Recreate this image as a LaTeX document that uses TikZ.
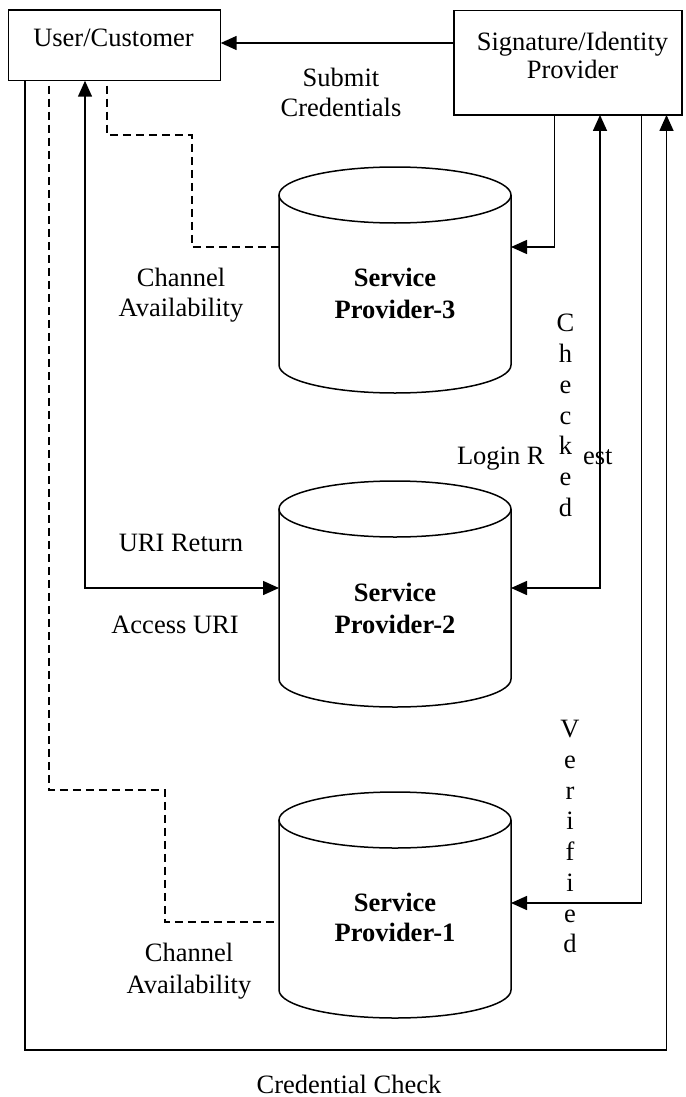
\documentclass[tikz,border=0pt]{standalone}
\usepackage{fontspec}
\setmainfont{Liberation Serif}
\usetikzlibrary{arrows.meta}
\newcommand{\dbcyl}[2]{%
  \draw[conn] (#1,#2) ellipse [x radius=116pt, y radius=28pt];
  \draw[conn] (#1,#2) ++(-116,0) -- ++(0,170)
     arc[start angle=180, end angle=360, x radius=116pt, y radius=28pt] -- ++(0,-170);}
\begin{document}
\begin{tikzpicture}[x=1pt,y=-1pt,
  every node/.style={inner sep=0pt, outer sep=0pt},
  lbl/.style={font=\fontsize{26.5}{30.8}\selectfont},
  boldlbl/.style={font=\fontsize{26.5}{31.6}\selectfont\bfseries, align=center},
  conn/.style={line width=1.5pt},
  arrowend/.style={conn, -{Triangle[length=16pt,width=14pt]}},
  twoway/.style={conn, {Triangle[length=16pt,width=14pt]}-{Triangle[length=16pt,width=14pt]}},
  dashconn/.style={conn, dash pattern=on 8pt off 5pt, dash phase=8pt},
  boxnode/.style={draw, line width=1.5pt, rectangle}]
\useasboundingbox (0,0) rectangle (685,1097);

% rails
\coordinate (yTop) at (0,43);
\coordinate (y3) at (0,247);
\coordinate (y2) at (0,588);
\coordinate (y1r) at (0,903);
\coordinate (y1l) at (0,922);
\coordinate (yd1) at (0,135);
\coordinate (yd2) at (0,790);
\coordinate (yb) at (0,1050);
\coordinate (xl1) at (25,0);
\coordinate (xl2) at (49,0);
\coordinate (xl3) at (85,0);
\coordinate (xl4) at (107,0);
\coordinate (xd1) at (165,0);
\coordinate (xd3) at (192,0);
\coordinate (xr1) at (554.5,0);
\coordinate (xr2) at (600,0);
\coordinate (xr3) at (641.5,0);
\coordinate (xr4) at (666.5,0);

% boxes
\node[boxnode, minimum width=212.4pt, minimum height=70.7pt] (user) at (114.5,45.4) {};
\node[lbl, anchor=base] (usertxt) at (113.5,46.7) {User/Customer};
\node[boxnode, minimum width=228pt, minimum height=104.3pt] (sig) at (568,62.8) {};
\node[lbl, align=center, font=\fontsize{26.5}{28}\selectfont] (sigtxt) at (572.5,55) {Signature/Identity\\Provider};

% cylinders
\dbcyl{395}{195}
\dbcyl{395}{509}
\dbcyl{395}{820}
\node[boldlbl, minimum width=232pt] (sp3) at (395,293.4) {Service\\Provider-3};
\node[boldlbl, minimum width=232pt] (sp2) at (395,608.4) {Service\\Provider-2};
\node[boldlbl, minimum width=232pt, font=\fontsize{26.5}{30}\selectfont\bfseries] (sp1) at (395,917.5) {Service\\Provider-1};

% labels
\node[lbl, align=center, font=\fontsize{26.5}{30.7}\selectfont] (subm) at (341,92.3) {Submit\\Credentials};
\node[lbl, align=center, font=\fontsize{26.5}{30}\selectfont] (chan3) at (181,295.5) {Channel\\Availability};
\node[lbl] (urir) at (181,543) {URI Return};
\node[lbl] (accu) at (175,625.2) {Access URI};
\node[lbl, align=center, font=\fontsize{26.5}{31.6}\selectfont] (chan1) at (189,971.4) {Channel\\Availability};
\node[lbl] (cred) at (349,1084.3) {Credential Check};
\node[lbl, anchor=base west] (login1) at (457,464) {Login R};
\node[lbl, anchor=base west] (login2) at (583,464) {est};
\node[lbl, align=center, font=\fontsize{26.5}{30.8}\selectfont] (chk) at (565.5,415.4) {C\\h\\e\\c\\k\\e\\d};
\node[lbl, align=center, font=\fontsize{26.5}{30.7}\selectfont] (ver) at (570,836.7) {V\\e\\r\\i\\f\\i\\e\\d};

% connectors
\draw[arrowend] (sig.west |- yTop) -- (user.east |- yTop);
\draw[arrowend] (user.south -| xl1) -- (xl1 |- yb) -- (xr4 |- yb) -- (sig.south -| xr4);
\draw[dashconn] (user.south -| xl2) -- (xl2 |- yd2) -- (xd1 |- yd2) -- (xd1 |- y1l) -- (sp1.west |- y1l);
\draw[twoway] (user.south -| xl3) -- (xl3 |- y2) -- (sp2.west |- y2);
\draw[dashconn] (user.south -| xl4) -- (xl4 |- yd1) -- (xd3 |- yd1) -- (xd3 |- y3) -- (sp3.west |- y3);
\draw[arrowend] (sig.south -| xr1) -- (xr1 |- y3) -- (sp3.east |- y3);
\draw[twoway] (sig.south -| xr2) -- (xr2 |- y2) -- (sp2.east |- y2);
\draw[arrowend] (sig.south -| xr3) -- (xr3 |- y1r) -- (sp1.east |- y1r);
\end{tikzpicture}
\end{document}
